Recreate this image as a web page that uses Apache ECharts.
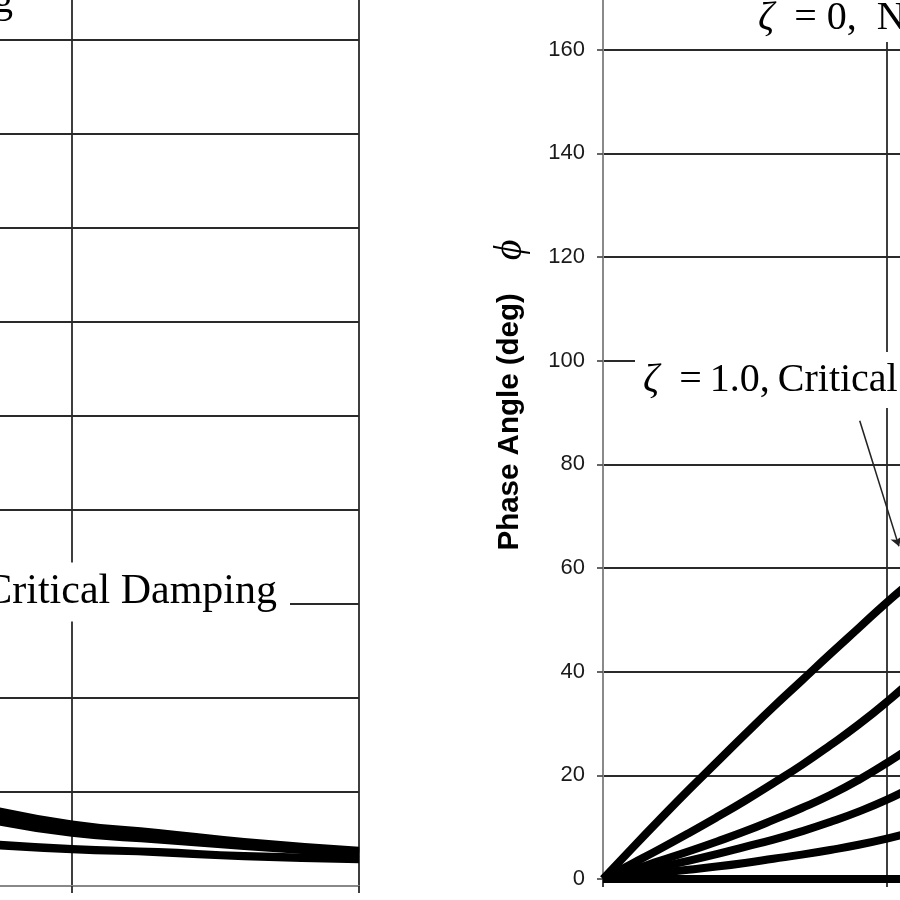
<!DOCTYPE html>
<html>
<head>
<meta charset="utf-8">
<title>Phase Angle</title>
<script src="https://cdn.jsdelivr.net/npm/echarts@6/dist/echarts.min.js"></script>
<style>
html, body { margin: 0; padding: 0; background: #fff; }
#main { width: 900px; height: 900px; }
</style>
</head>
<body>
<div id="main"></div>
<script>
// 左图: 放大系数, 只能看到 r = 2.35 ~ 3.0 这一段
var ampR = [2.35, 2.5, 2.65, 2.8, 3.0];
var ampZeta0 = [0.415, 0.33, 0.285, 0.237, 0.19];
var ampZeta01 = [0.40, 0.318, 0.275, 0.23, 0.182];
var ampZeta02 = [0.385, 0.305, 0.265, 0.222, 0.175];
var ampZeta03 = [0.355, 0.28, 0.245, 0.21, 0.168];
var ampZeta05 = [0.228, 0.20, 0.183, 0.162, 0.148];
var ampZeta1 = [0.218, 0.193, 0.177, 0.156, 0.14];
var ampTicks = [0, 0.5, 1, 1.5, 2, 2.5, 3, 3.5, 4, 4.5, 5];

// 右图: 相位角 (deg), 只能看到 r = 0 ~ 0.55
var phaseR = [0, 0.05, 0.1, 0.15, 0.2, 0.25, 0.3, 0.35, 0.4, 0.45, 0.5, 0.55];
var phaseZeta1 = [0, 5.8, 11.5, 17.1, 22.5, 27.9, 33.2, 38.3, 43.4, 48.4, 53.4, 58];
var phaseZeta05 = [0, 2.9, 5.8, 8.8, 11.9, 15.1, 18.5, 22, 25.8, 29.8, 34.2, 39];
var phaseZeta03 = [0, 1.7, 3.5, 5.3, 7.2, 9.2, 11.4, 13.7, 16.2, 19.1, 22.4, 26];
var phaseZeta02 = [0, 1.2, 2.3, 3.5, 4.8, 6.2, 7.6, 9.2, 11, 13, 15.3, 18];
var phaseZeta01 = [0, 0.6, 1.2, 1.8, 2.4, 3.1, 3.9, 4.7, 5.6, 6.6, 7.8, 9.2];
var phaseZeta0 = [0, 0, 0, 0, 0, 0, 0, 0, 0, 0, 0, 0];
var phaseTicks = [0, 20, 40, 60, 80, 100, 120, 140, 160, 180];
var rTicks = [0, 0.5, 1, 1.5, 2, 2.5, 3];

// 指向 ζ=1.0 曲线的箭头 (数据坐标)
var arrowFrom = [0.452, 88.4];
var arrowTo = [0.521, 64.2];

var pairs = function (xs, ys) {
    return xs.map(function (x, i) { return [x, ys[i]]; });
};

var gridColor = '#2a2a2a';
var serif = '"Liberation Serif", "Times New Roman", serif';
var sans = '"Liberation Sans", Arial, sans-serif';

var myChart = echarts.init(document.getElementById('main'));

var series = [];
[ampZeta0, ampZeta01, ampZeta02, ampZeta03, ampZeta05, ampZeta1].forEach(function (ys) {
    series.push({
        type: 'line', xAxisIndex: 0, yAxisIndex: 0,
        data: pairs(ampR, ys), smooth: true, symbol: 'none', silent: true,
        lineStyle: { color: '#000', width: 7 }
    });
});
[phaseZeta1, phaseZeta05, phaseZeta03, phaseZeta02, phaseZeta01, phaseZeta0].forEach(function (ys, k) {
    var s = {
        type: 'line', xAxisIndex: 1, yAxisIndex: 1,
        data: pairs(phaseR, ys), smooth: true, symbol: 'none', silent: true,
        lineStyle: { color: '#000', width: 8 }
    };
    if (k === 0) {
        s.markLine = {
            silent: true,
            symbol: ['none', 'arrow'],
            symbolSize: 9,
            label: { show: false },
            lineStyle: { color: '#222', width: 1.5, type: 'solid' },
            data: [[{ coord: arrowFrom }, { coord: arrowTo }]]
        };
    }
    series.push(s);
});

// 标注文字 (白底, 盖住网格线)
var note = function (text, size, x, y, align, lineHeight, padding) {
    return {
        type: 'text', x: x, y: y, z: 100,
        style: {
            text: text, font: size + 'px ' + serif, fill: '#000',
            align: align, verticalAlign: 'middle', lineHeight: lineHeight,
            backgroundColor: '#fff', padding: padding,
            rich: { z: { font: 'italic ' + size + 'px ' + serif, fill: '#000' } }
        }
    };
};

var option = {
    animation: false,
    backgroundColor: '#fff',
    grid: [
        { left: -215, width: 574, top: -54, bottom: 14, outerBoundsMode: 'none', containLabel: false },
        { left: 603, width: 1704, top: -54, bottom: 21, outerBoundsMode: 'none', containLabel: false }
    ],
    xAxis: [
        {
            gridIndex: 0, type: 'value', min: 2, max: 3, interval: 0.5,
            axisLine: { lineStyle: { color: '#888', width: 2 } },
            axisTick: { length: 7, lineStyle: { color: gridColor, width: 1.8 } },
            axisLabel: { show: false },
            splitLine: { lineStyle: { color: gridColor, width: 1.8 } }
        },
        {
            gridIndex: 1, type: 'value', min: rTicks[0], max: rTicks[rTicks.length - 1], interval: 0.5,
            axisLine: { lineStyle: { color: '#888', width: 2 } },
            axisTick: { length: 8, lineStyle: { color: gridColor, width: 1.8 } },
            axisLabel: { show: false },
            splitLine: { lineStyle: { color: gridColor, width: 1.8 } }
        }
    ],
    yAxis: [
        {
            gridIndex: 0, type: 'value', min: ampTicks[0], max: ampTicks[ampTicks.length - 1], interval: 0.5,
            axisLine: { show: false },
            axisTick: { show: false },
            axisLabel: { show: false },
            splitLine: { lineStyle: { color: gridColor, width: 1.8 } }
        },
        {
            gridIndex: 1, type: 'value', min: phaseTicks[0], max: phaseTicks[phaseTicks.length - 1], interval: 20,
            axisLine: { show: true, lineStyle: { color: '#8a8a8a', width: 2 } },
            axisTick: { show: true, length: 6, lineStyle: { color: '#555', width: 1.8 } },
            axisLabel: { margin: 18, color: '#1a1a1a', fontSize: 22, fontFamily: sans },
            splitLine: { lineStyle: { color: gridColor, width: 1.8 } },
            name: '{t|Phase Angle (deg)}{p|ϕ}',
            nameLocation: 'middle',
            nameRotate: 90,
            nameGap: 73,
            nameTextStyle: {
                rich: {
                    t: { fontFamily: sans, fontWeight: 'bold', fontSize: 29.5, lineHeight: 40, color: '#000', padding: [0, 0, 0, 35] },
                    p: { fontFamily: serif, fontStyle: 'italic', fontSize: 40, lineHeight: 40, color: '#000', padding: [0, 0, 0, 33] }
                }
            }
        }
    ],
    series: series,
    graphic: [
        note('{z|ζ}\u2002= 0,  No Damping', 40, 21, 1, 'right', 44, [2, 8, 2, 8]),
        note('{z|ζ}\u2002=\u20091.0,\u2009Critical Damping', 42, 290, 592, 'right', 47, [6, 13, 6, 8]),
        note('{z|ζ}\u2002= 0,  No Damping', 40, 750, 18, 'left', 44, [2, 8, 2, 8]),
        note('{z|ζ}\u2002=\u20091.0,\u2009Critical Damping', 40, 635, 380, 'left', 46, [5, 8, 5, 8])
    ]
};

myChart.setOption(option);
</script>
</body>
</html>
